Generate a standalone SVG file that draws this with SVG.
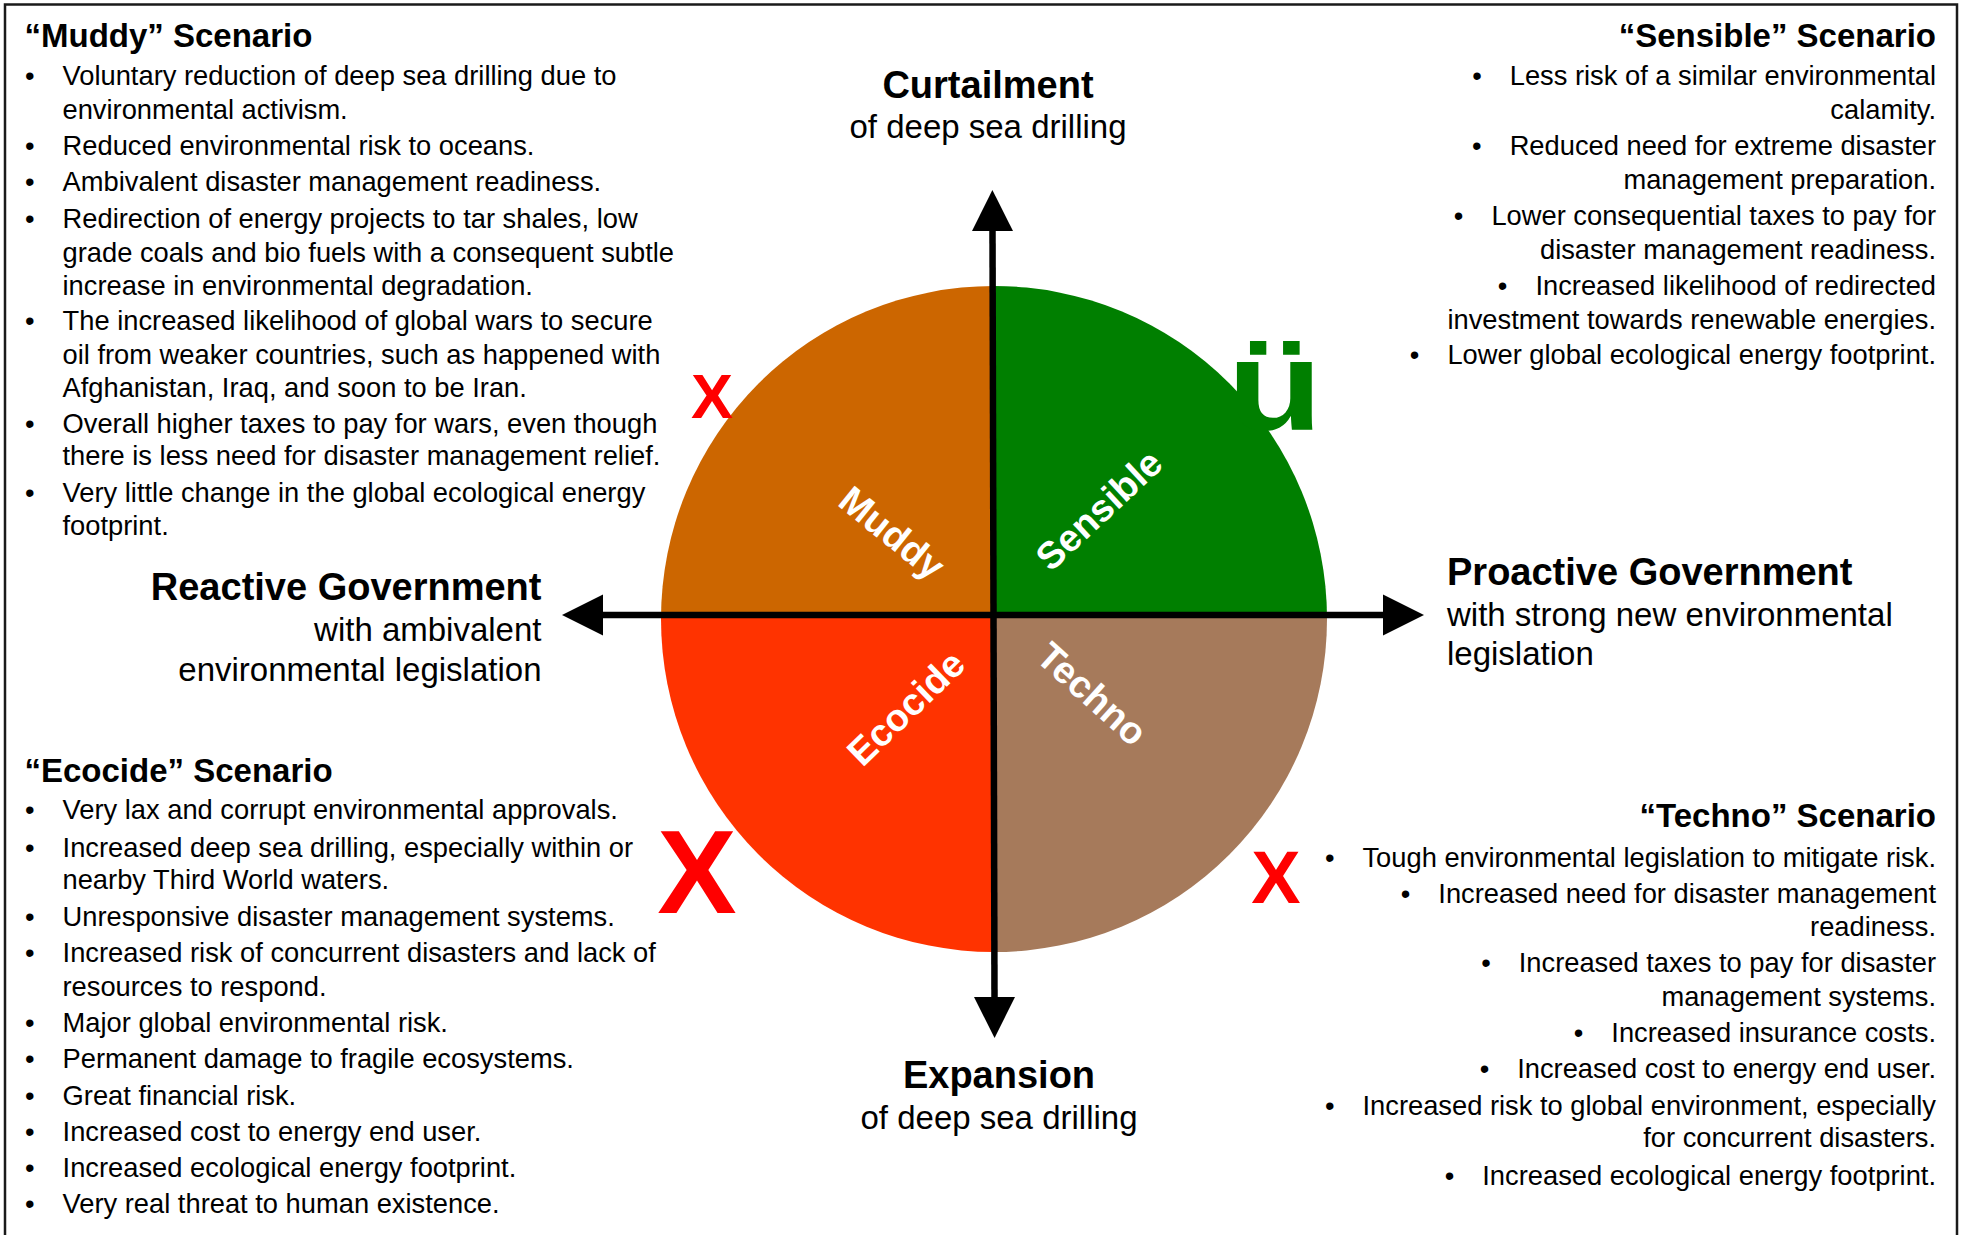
<svg xmlns="http://www.w3.org/2000/svg" width="1961" height="1235" viewBox="0 0 1961 1235">
<style>
text{font-family:"Liberation Sans",Arial,Helvetica,sans-serif;fill:#000}
.b{font-size:27.3px}
.h{font-size:33px;font-weight:bold}
.ab{font-size:38px;font-weight:bold}
.ar{font-size:33px}
.q{font-size:38px;font-weight:bold;fill:#fff}
.x{fill:#ff0000;font-weight:bold;text-anchor:middle}
.e{text-anchor:end}
.m{text-anchor:middle}
.axis{stroke:#000;stroke-width:6.5;fill:none;marker-start:url(#ah);marker-end:url(#ah)}
</style>
<defs>
<clipPath id="disc"><circle cx="994" cy="619" r="333"/></clipPath>
<marker id="ah" markerUnits="userSpaceOnUse" markerWidth="42" markerHeight="42" refX="0" refY="20.5" orient="auto-start-reverse" viewBox="0 0 42 41">
<path d="M0,0 L41,20.5 L0,41 Z" fill="#000"/>
</marker>
</defs>
<rect width="1961" height="1235" fill="#fff"/>
<rect id="frame" x="5" y="4.5" width="1952" height="1260" fill="none" stroke="#1a1a1a" stroke-width="2.5"/>

<g id="quadrants" clip-path="url(#disc)">
<g id="q-muddy"><rect x="640" y="270" width="353.5" height="345" fill="#cc6600"/></g>
<g id="q-sensible"><rect x="993.5" y="270" width="360" height="345" fill="#007f00"/></g>
<g id="q-ecocide"><rect x="640" y="615" width="353.5" height="360" fill="#ff3300"/></g>
<g id="q-techno"><rect x="993.5" y="615" width="360" height="360" fill="#a67a5b"/></g>
</g>

<g id="quadrant-labels">
<text class="q m" transform="translate(892,533) rotate(39)" y="13">Muddy</text>
<text class="q m" transform="translate(1099,510) rotate(-43)" y="13">Sensible</text>
<text class="q m" transform="translate(906,708) rotate(-44)" y="13">Ecocide</text>
<text class="q m" transform="translate(1092,694) rotate(42)" y="13">Techno</text>
</g>

<g id="connectors">
<line class="axis" x1="994.5" y1="997" x2="992.5" y2="231"/>
<line class="axis" x1="603" y1="615" x2="1383" y2="615"/>
</g>

<g id="marks">
<text class="x" x="712" y="418" font-size="63">X</text>
<text class="x" x="697" y="913" font-size="119">X</text>
<text class="x" x="1276" y="903" font-size="74">X</text>
<text class="m" transform="translate(1275,430) scale(1.22,1)" font-size="128" font-weight="bold" style="fill:#007f00">ü</text>
</g>

<g id="axis-top">
<text class="ab m" x="988" y="97.5">Curtailment</text>
<text class="ar m" x="988" y="138">of deep sea drilling</text>
</g>
<g id="axis-bottom">
<text class="ab m" x="999" y="1088">Expansion</text>
<text class="ar m" x="999" y="1128.5">of deep sea drilling</text>
</g>
<g id="axis-left">
<text class="ab e" x="541.5" y="600">Reactive Government</text>
<text class="ar e" x="541.5" y="641">with ambivalent</text>
<text class="ar e" x="541.5" y="681">environmental legislation</text>
</g>
<g id="axis-right">
<text class="ab" x="1447" y="585">Proactive Government</text>
<text class="ar" x="1447" y="626">with strong new environmental</text>
<text class="ar" x="1447" y="665">legislation</text>
</g>

<g id="muddy-scenario">
<text class="h" x="24.5" y="47">“Muddy” Scenario</text>
<text class="b" x="25" y="85">•<tspan dx="28">Voluntary reduction of deep sea drilling due to</tspan></text>
<text class="b" x="62.5" y="119">environmental activism.</text>
<text class="b" x="25" y="155">•<tspan dx="28">Reduced environmental risk to oceans.</tspan></text>
<text class="b" x="25" y="191">•<tspan dx="28">Ambivalent disaster management readiness.</tspan></text>
<text class="b" x="25" y="227.5">•<tspan dx="28">Redirection of energy projects to tar shales, low</tspan></text>
<text class="b" x="62.5" y="261.5">grade coals and bio fuels with a consequent subtle</text>
<text class="b" x="62.5" y="295">increase in environmental degradation.</text>
<text class="b" x="25" y="330">•<tspan dx="28">The increased likelihood of global wars to secure</tspan></text>
<text class="b" x="62.5" y="364">oil from weaker countries, such as happened with</text>
<text class="b" x="62.5" y="396.5">Afghanistan, Iraq, and soon to be Iran.</text>
<text class="b" x="25" y="432.5">•<tspan dx="28">Overall higher taxes to pay for wars, even though</tspan></text>
<text class="b" x="62.5" y="465">there is less need for disaster management relief.</text>
<text class="b" x="25" y="501.5">•<tspan dx="28">Very little change in the global ecological energy</tspan></text>
<text class="b" x="62.5" y="535">footprint.</text>
</g>

<g id="ecocide-scenario">
<text class="h" x="24.5" y="782">“Ecocide” Scenario</text>
<text class="b" x="25" y="819">•<tspan dx="28">Very lax and corrupt environmental approvals.</tspan></text>
<text class="b" x="25" y="856.5">•<tspan dx="28">Increased deep sea drilling, especially within or</tspan></text>
<text class="b" x="62.5" y="889">nearby Third World waters.</text>
<text class="b" x="25" y="925.5">•<tspan dx="28">Unresponsive disaster management systems.</tspan></text>
<text class="b" x="25" y="961.5">•<tspan dx="28">Increased risk of concurrent disasters and lack of</tspan></text>
<text class="b" x="62.5" y="995.5">resources to respond.</text>
<text class="b" x="25" y="1031.5">•<tspan dx="28">Major global environmental risk.</tspan></text>
<text class="b" x="25" y="1068">•<tspan dx="28">Permanent damage to fragile ecosystems.</tspan></text>
<text class="b" x="25" y="1104.5">•<tspan dx="28">Great financial risk.</tspan></text>
<text class="b" x="25" y="1140.5">•<tspan dx="28">Increased cost to energy end user.</tspan></text>
<text class="b" x="25" y="1177">•<tspan dx="28">Increased ecological energy footprint.</tspan></text>
<text class="b" x="25" y="1213">•<tspan dx="28">Very real threat to human existence.</tspan></text>
</g>

<g id="sensible-scenario">
<text class="h e" x="1936" y="47">“Sensible” Scenario</text>
<text class="b e" x="1936" y="85">•<tspan dx="28">Less risk of a similar environmental</tspan></text>
<text class="b e" x="1936" y="119">calamity.</text>
<text class="b e" x="1936" y="155">•<tspan dx="28">Reduced need for extreme disaster</tspan></text>
<text class="b e" x="1936" y="189">management preparation.</text>
<text class="b e" x="1936" y="225">•<tspan dx="28">Lower consequential taxes to pay for</tspan></text>
<text class="b e" x="1936" y="259">disaster management readiness.</text>
<text class="b e" x="1936" y="295">•<tspan dx="28">Increased likelihood of redirected</tspan></text>
<text class="b e" x="1936" y="329">investment towards renewable energies.</text>
<text class="b e" x="1936" y="364">•<tspan dx="28">Lower global ecological energy footprint.</tspan></text>
</g>

<g id="techno-scenario">
<text class="h e" x="1936" y="827">“Techno” Scenario</text>
<text class="b e" x="1936" y="866.5">•<tspan dx="28">Tough environmental legislation to mitigate risk.</tspan></text>
<text class="b e" x="1936" y="903">•<tspan dx="28">Increased need for disaster management</tspan></text>
<text class="b e" x="1936" y="935.5">readiness.</text>
<text class="b e" x="1936" y="971.5">•<tspan dx="28">Increased taxes to pay for disaster</tspan></text>
<text class="b e" x="1936" y="1005.5">management systems.</text>
<text class="b e" x="1936" y="1041.5">•<tspan dx="28">Increased insurance costs.</tspan></text>
<text class="b e" x="1936" y="1078">•<tspan dx="28">Increased cost to energy end user.</tspan></text>
<text class="b e" x="1936" y="1114.5">•<tspan dx="28">Increased risk to global environment, especially</tspan></text>
<text class="b e" x="1936" y="1147">for concurrent disasters.</text>
<text class="b e" x="1936" y="1184.5">•<tspan dx="28">Increased ecological energy footprint.</tspan></text>
</g>
</svg>
